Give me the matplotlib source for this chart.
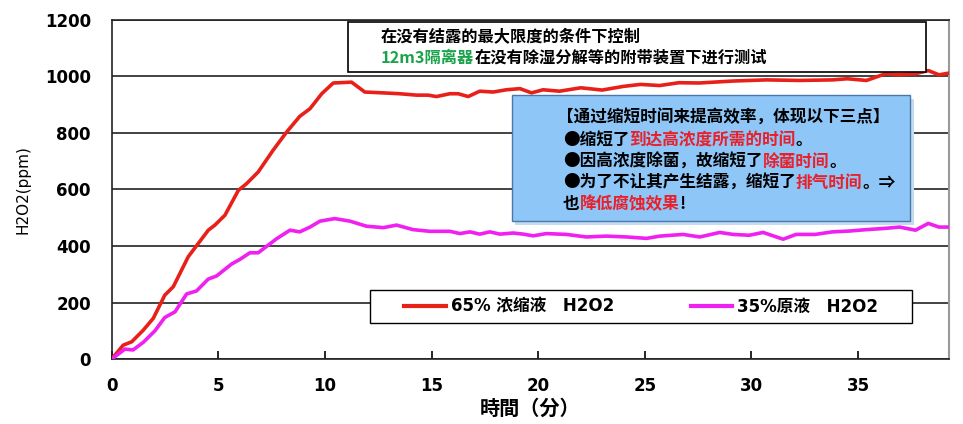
import matplotlib

matplotlib.use("Agg")
import matplotlib.pyplot as plt
from matplotlib.patches import Rectangle

# --- data ------------------------------------------------------------------
red_t = [0, 0.54, 0.94, 1.48, 1.95, 2.49, 2.89, 3.59, 4.06, 4.53, 4.84, 5.31,
         5.94, 6.33, 6.87, 7.57, 8.2, 8.82, 9.3, 9.85, 10.39, 11.25, 11.87,
         12.74, 13.51, 14.3, 14.84, 15.23, 15.86, 16.25, 16.72, 17.26, 17.89,
         18.51, 19.15, 19.69, 20.23, 21.0, 22.0, 23.0, 24.0, 24.8, 25.7, 26.6,
         27.55, 29.15, 30.7, 32.25, 33.8, 34.5, 35.4, 36.3, 36.9, 37.7, 38.3,
         38.8, 39.27]
red_ppm = [0, 49, 61, 102, 144, 226, 256, 362, 409, 456, 474, 509,
           597, 621, 662, 739, 803, 859, 886, 939, 977, 980, 945,
           942, 939, 934, 934, 929, 939, 939, 929, 948, 945,
           953, 957, 942, 953, 948, 960, 952, 965, 972, 968, 978,
           977, 984, 988, 986, 988, 992, 986, 1010, 1006, 1010, 1021,
           1006, 1012]

mag_t = [0, 0.62, 1.0, 1.48, 2.03, 2.49, 2.97, 3.51, 3.98, 4.53, 4.92, 5.62,
         6.02, 6.48, 6.87, 7.74, 8.36, 8.82, 9.3, 9.77, 10.46, 11.17, 11.95,
         12.74, 13.36, 14.13, 14.92, 15.86, 16.33, 16.8, 17.26, 17.74, 18.21,
         18.83, 19.3, 19.77, 20.39, 21.0, 21.33, 22.26, 23.21, 24.15, 25.08,
         25.71, 26.8, 27.58, 28.52, 29.14, 29.9, 30.55, 31.49, 32.1, 33.0,
         33.8, 34.6, 35.4, 36.2, 36.95, 37.7, 38.3, 38.8, 39.27]
mag_ppm = [0, 35, 32, 59, 100, 147, 167, 230, 241, 283, 294, 336,
           353, 376, 376, 426, 456, 450, 467, 488, 497, 488, 470,
           465, 474, 458, 452, 452, 444, 450, 442, 450, 442,
           446, 442, 436, 444, 442, 441, 432, 435, 432, 427,
           435, 441, 432, 448, 441, 438, 448, 424, 441, 441,
           450, 453, 458, 462, 467, 456, 480, 467, 467]

x_ticks = [0, 5, 10, 15, 20, 25, 30, 35]
y_ticks = [0, 200, 400, 600, 800, 1000, 1200]
series_labels = ["65% 浓缩液\u3000H2O2", "35%原液\u3000H2O2"]

note_line1 = "在没有结露的最大限度的条件下控制"
note_line2 = [("12m3隔离器", "#1aa34a"), ("在没有除湿分解等的附带装置下进行测试", "black")]
blue_lines = [
    [("【通过缩短时间来提高效率，体现以下三点】", "black")],
    [("●缩短了", "black"), ("到达高浓度所需的时间", "#e8202a"), ("。", "black")],
    [("●因高浓度除菌，故缩短了", "black"), ("除菌时间", "#e8202a"), ("。", "black")],
    [("●为了不让其产生结露，缩短了", "black"), ("排气时间", "#e8202a"), ("。⇒", "black")],
    [("也", "black"), ("降低腐蚀效果", "#e8202a"), ("!", "black")],
]

W, H = 963, 424
CJK = ["Noto Sans CJK SC", "DejaVu Sans"]
LATIN_CJK = ["DejaVu Sans", "Noto Sans CJK SC"]


def fx(px):
    return px / W


def fy(py):
    return (H - py) / H


fig = plt.figure(figsize=(W / 100, H / 100), dpi=100)
ax = fig.add_axes([fx(111.7), fy(359), fx(949) - fx(111.7), fy(20) - fy(359)])

ax.plot(red_t, red_ppm, color="#e8201a", lw=2.6, label=series_labels[0], zorder=3)
ax.plot(mag_t, mag_ppm, color="#f020f0", lw=2.6, label=series_labels[1], zorder=3)

ax.set_xlim(0, 39.27)
ax.set_ylim(0, 1200)
ax.set_xticks(x_ticks)
ax.set_yticks(y_ticks)
ax.yaxis.grid(True, color="#222222", lw=1.2)
ax.set_axisbelow(True)
ax.tick_params(axis="x", direction="in", length=6, width=1.2, pad=13)
ax.tick_params(axis="y", length=0, pad=15)
for lab in ax.get_xticklabels() + ax.get_yticklabels():
    lab.set_fontweight("bold")
    lab.set_fontsize(12)
for side in ("left", "bottom", "top"):
    ax.spines[side].set_color("#222222")
    ax.spines[side].set_linewidth(1.2)
ax.spines["right"].set_color("#999999")
ax.spines["right"].set_linewidth(1.5)

ax.set_xlabel("時間（分）", family=["Noto Sans CJK JP", "DejaVu Sans"],
              fontweight="bold", fontsize=14.5, labelpad=2)
ax.set_ylabel("H2O2(ppm)", fontsize=11, labelpad=10)

# legend: white framed box with the two entries centred inside it
ax.add_patch(Rectangle((0.309, 0.106), 0.647, 0.0975, transform=ax.transAxes,
                       facecolor="white", edgecolor="black", lw=1.0, zorder=4))
leg = ax.legend(loc="center", bbox_to_anchor=(0.309 + 0.647 / 2, 0.106 + 0.0975 / 2),
                ncol=2, handlelength=2.5, handletextpad=0.3, columnspacing=4.6,
                borderpad=0, borderaxespad=0, frameon=False,
                prop={"family": LATIN_CJK, "weight": "bold", "size": 12})
leg.set_zorder(5)
for ln in leg.get_lines():
    ln.set_linewidth(3)

renderer = fig.canvas.get_renderer()


def seg_text(x0, y, parts, size):
    x = x0
    for s, c in parts:
        t = fig.text(fx(x), fy(y), s, color=c, family=CJK, fontweight="bold",
                     fontsize=size, va="center", ha="left", zorder=5)
        x = t.get_window_extent(renderer).x1


# --- top note box ----------------------------------------------------------
fig.add_artist(Rectangle((fx(348), fy(72)), fx(926) - fx(348), fy(22) - fy(72),
                         transform=fig.transFigure, facecolor="white",
                         edgecolor="black", lw=1.2, zorder=2))
seg_text(381, 36, [(note_line1, "black")], 11.7)
seg_text(381, 58, note_line2, 11.7)

# --- blue callout ----------------------------------------------------------
fig.add_artist(Rectangle((fx(515), fy(225)), fx(914) - fx(515), fy(99) - fy(225),
                         transform=fig.transFigure, facecolor="#c4dcf2",
                         edgecolor="none", zorder=2))
fig.add_artist(Rectangle((fx(512), fy(221)), fx(910) - fx(512), fy(95) - fy(221),
                         transform=fig.transFigure, facecolor="#8ec6f8",
                         edgecolor="#4a78a8", lw=1.0, zorder=2))
y_rows = [118, 140, 162, 183, 204]
x_rows = [557, 563, 563, 563, 563]
for xr, yr, parts in zip(x_rows, y_rows, blue_lines):
    seg_text(xr, yr, parts, 12)

fig.savefig("out.png", dpi=100)
plt.close(fig)
